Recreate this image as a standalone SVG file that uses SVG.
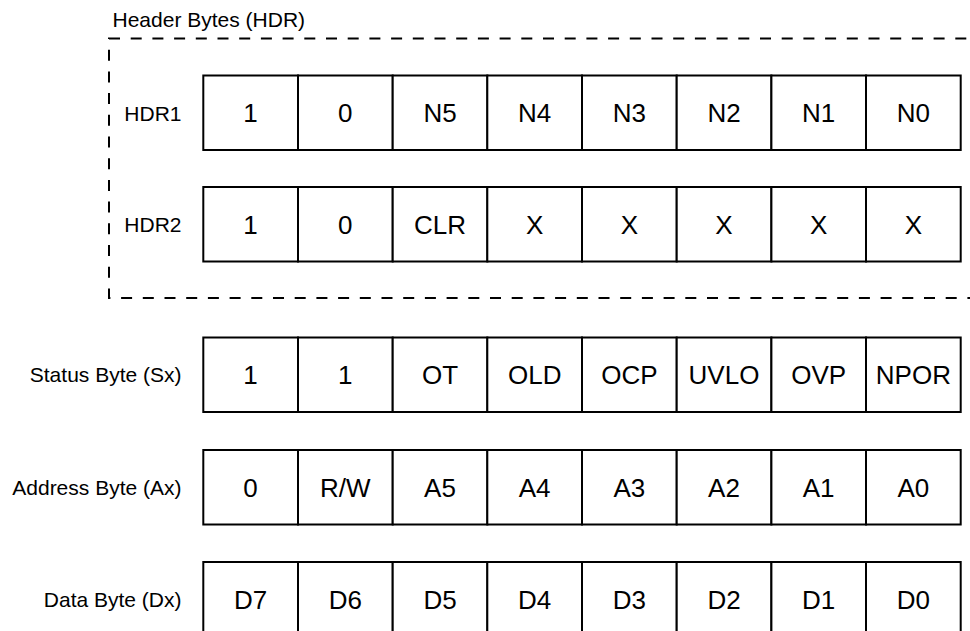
<svg xmlns="http://www.w3.org/2000/svg" width="970" height="631" viewBox="0 0 970 631">
<style>
.cell{fill:#fff;stroke:#000;stroke-width:2}
.ct{font-family:"Liberation Sans",Arial,sans-serif;font-size:26px;fill:#000;text-anchor:middle}
.lb{font-family:"Liberation Sans",Arial,sans-serif;font-size:21px;fill:#000;text-anchor:end}
.hd{font-family:"Liberation Sans",Arial,sans-serif;font-size:21px;fill:#000}
.dash{fill:none;stroke:#000;stroke-width:2;stroke-dasharray:11 10.7}
</style>
<rect width="970" height="631" fill="#fff"/>
<g id="header-group">
<rect class="dash" x="109" y="38.5" width="880" height="259.5"/>
<text class="hd" x="112.5" y="26.5">Header Bytes (HDR)</text>
</g>
<g id="connectors"/>
<g id="row-hdr1">
<text class="lb" x="181.5" y="120.5">HDR1</text>
<g id="hdr1-b7"><rect class="cell" x="203.3" y="75.5" width="94.7" height="74.5"/><text class="ct" x="250.6" y="122">1</text></g>
<g id="hdr1-b6"><rect class="cell" x="298" y="75.5" width="94.7" height="74.5"/><text class="ct" x="345.3" y="122">0</text></g>
<g id="hdr1-b5"><rect class="cell" x="392.7" y="75.5" width="94.7" height="74.5"/><text class="ct" x="440" y="122">N5</text></g>
<g id="hdr1-b4"><rect class="cell" x="487.3" y="75.5" width="94.7" height="74.5"/><text class="ct" x="534.7" y="122">N4</text></g>
<g id="hdr1-b3"><rect class="cell" x="582" y="75.5" width="94.7" height="74.5"/><text class="ct" x="629.4" y="122">N3</text></g>
<g id="hdr1-b2"><rect class="cell" x="676.7" y="75.5" width="94.7" height="74.5"/><text class="ct" x="724" y="122">N2</text></g>
<g id="hdr1-b1"><rect class="cell" x="771.4" y="75.5" width="94.7" height="74.5"/><text class="ct" x="818.7" y="122">N1</text></g>
<g id="hdr1-b0"><rect class="cell" x="866" y="75.5" width="94.7" height="74.5"/><text class="ct" x="913.4" y="122">N0</text></g>
</g>
<g id="row-hdr2">
<text class="lb" x="181.5" y="232">HDR2</text>
<g id="hdr2-b7"><rect class="cell" x="203.3" y="187" width="94.7" height="74.5"/><text class="ct" x="250.6" y="233.5">1</text></g>
<g id="hdr2-b6"><rect class="cell" x="298" y="187" width="94.7" height="74.5"/><text class="ct" x="345.3" y="233.5">0</text></g>
<g id="hdr2-b5"><rect class="cell" x="392.7" y="187" width="94.7" height="74.5"/><text class="ct" x="440" y="233.5">CLR</text></g>
<g id="hdr2-b4"><rect class="cell" x="487.3" y="187" width="94.7" height="74.5"/><text class="ct" x="534.7" y="233.5">X</text></g>
<g id="hdr2-b3"><rect class="cell" x="582" y="187" width="94.7" height="74.5"/><text class="ct" x="629.4" y="233.5">X</text></g>
<g id="hdr2-b2"><rect class="cell" x="676.7" y="187" width="94.7" height="74.5"/><text class="ct" x="724" y="233.5">X</text></g>
<g id="hdr2-b1"><rect class="cell" x="771.4" y="187" width="94.7" height="74.5"/><text class="ct" x="818.7" y="233.5">X</text></g>
<g id="hdr2-b0"><rect class="cell" x="866" y="187" width="94.7" height="74.5"/><text class="ct" x="913.4" y="233.5">X</text></g>
</g>
<g id="row-status">
<text class="lb" x="181.5" y="382">Status Byte (Sx)</text>
<g id="st-b7"><rect class="cell" x="203.3" y="337.5" width="94.7" height="74.5"/><text class="ct" x="250.6" y="384">1</text></g>
<g id="st-b6"><rect class="cell" x="298" y="337.5" width="94.7" height="74.5"/><text class="ct" x="345.3" y="384">1</text></g>
<g id="st-b5"><rect class="cell" x="392.7" y="337.5" width="94.7" height="74.5"/><text class="ct" x="440" y="384">OT</text></g>
<g id="st-b4"><rect class="cell" x="487.3" y="337.5" width="94.7" height="74.5"/><text class="ct" x="534.7" y="384">OLD</text></g>
<g id="st-b3"><rect class="cell" x="582" y="337.5" width="94.7" height="74.5"/><text class="ct" x="629.4" y="384">OCP</text></g>
<g id="st-b2"><rect class="cell" x="676.7" y="337.5" width="94.7" height="74.5"/><text class="ct" x="724" y="384">UVLO</text></g>
<g id="st-b1"><rect class="cell" x="771.4" y="337.5" width="94.7" height="74.5"/><text class="ct" x="818.7" y="384">OVP</text></g>
<g id="st-b0"><rect class="cell" x="866" y="337.5" width="94.7" height="74.5"/><text class="ct" x="913.4" y="384">NPOR</text></g>
</g>
<g id="row-address">
<text class="lb" x="181.5" y="494.5">Address Byte (Ax)</text>
<g id="ad-b7"><rect class="cell" x="203.3" y="450" width="94.7" height="74.5"/><text class="ct" x="250.6" y="496.5">0</text></g>
<g id="ad-b6"><rect class="cell" x="298" y="450" width="94.7" height="74.5"/><text class="ct" x="345.3" y="496.5">R/W</text></g>
<g id="ad-b5"><rect class="cell" x="392.7" y="450" width="94.7" height="74.5"/><text class="ct" x="440" y="496.5">A5</text></g>
<g id="ad-b4"><rect class="cell" x="487.3" y="450" width="94.7" height="74.5"/><text class="ct" x="534.7" y="496.5">A4</text></g>
<g id="ad-b3"><rect class="cell" x="582" y="450" width="94.7" height="74.5"/><text class="ct" x="629.4" y="496.5">A3</text></g>
<g id="ad-b2"><rect class="cell" x="676.7" y="450" width="94.7" height="74.5"/><text class="ct" x="724" y="496.5">A2</text></g>
<g id="ad-b1"><rect class="cell" x="771.4" y="450" width="94.7" height="74.5"/><text class="ct" x="818.7" y="496.5">A1</text></g>
<g id="ad-b0"><rect class="cell" x="866" y="450" width="94.7" height="74.5"/><text class="ct" x="913.4" y="496.5">A0</text></g>
</g>
<g id="row-data">
<text class="lb" x="181.5" y="606.5">Data Byte (Dx)</text>
<g id="da-b7"><rect class="cell" x="203.3" y="562" width="94.7" height="74.5"/><text class="ct" x="250.6" y="608.5">D7</text></g>
<g id="da-b6"><rect class="cell" x="298" y="562" width="94.7" height="74.5"/><text class="ct" x="345.3" y="608.5">D6</text></g>
<g id="da-b5"><rect class="cell" x="392.7" y="562" width="94.7" height="74.5"/><text class="ct" x="440" y="608.5">D5</text></g>
<g id="da-b4"><rect class="cell" x="487.3" y="562" width="94.7" height="74.5"/><text class="ct" x="534.7" y="608.5">D4</text></g>
<g id="da-b3"><rect class="cell" x="582" y="562" width="94.7" height="74.5"/><text class="ct" x="629.4" y="608.5">D3</text></g>
<g id="da-b2"><rect class="cell" x="676.7" y="562" width="94.7" height="74.5"/><text class="ct" x="724" y="608.5">D2</text></g>
<g id="da-b1"><rect class="cell" x="771.4" y="562" width="94.7" height="74.5"/><text class="ct" x="818.7" y="608.5">D1</text></g>
<g id="da-b0"><rect class="cell" x="866" y="562" width="94.7" height="74.5"/><text class="ct" x="913.4" y="608.5">D0</text></g>
</g>
</svg>
